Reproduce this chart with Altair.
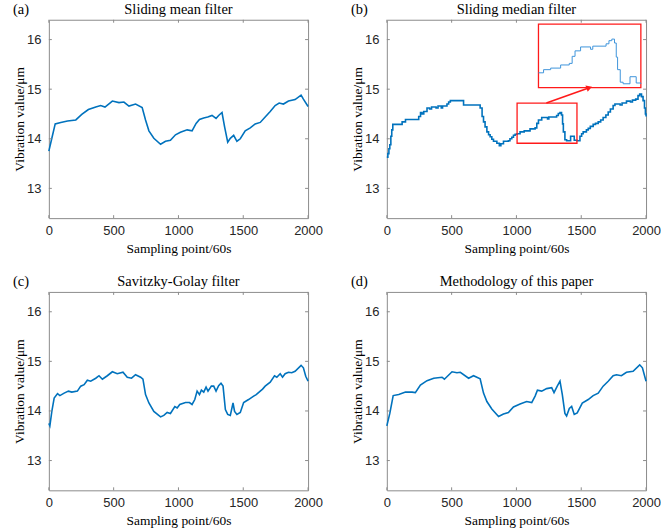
import altair as alt
import pandas as pd

# ---------------- data ----------------
x_ticks = [0, 500, 1000, 1500, 2000]
y_ticks = [13, 14, 15, 16]

mean_x = [0, 23, 49, 92, 144, 208, 254, 305, 362, 400, 433, 490, 541, 579, 618, 669, 720, 746, 772, 810,
          862, 900, 938, 977, 1015, 1067, 1105, 1136, 1162, 1195, 1226, 1259, 1290, 1310, 1336, 1356, 1380, 1400, 1426, 1451,
          1477, 1515, 1554, 1592, 1631, 1669, 1708, 1746, 1777, 1810, 1849, 1900, 1946, 1964, 2000]
mean_y = [13.75, 14.01, 14.30, 14.33, 14.36, 14.38, 14.49, 14.59, 14.64, 14.67, 14.64, 14.76, 14.73, 14.74, 14.66, 14.70, 14.63, 14.38, 14.16, 14.01,
          13.89, 13.95, 13.97, 14.08, 14.13, 14.18, 14.16, 14.31, 14.39, 14.42, 14.44, 14.47, 14.41, 14.47, 14.53, 14.24, 13.93, 14.01, 14.07, 13.95,
          14.00, 14.16, 14.22, 14.30, 14.33, 14.44, 14.55, 14.67, 14.72, 14.70, 14.76, 14.79, 14.88, 14.80, 14.65]

med_x = [0, 8, 16, 23, 31, 38, 46, 118, 144, 246, 260, 272, 285, 310, 330, 345, 380, 395, 420, 430,
         464, 477, 490, 592, 720, 735, 746, 758, 772, 785, 797, 810, 823, 849, 868, 880, 900, 938, 950, 964,
         977, 990, 1005, 1028, 1060, 1105, 1144, 1157, 1170, 1195, 1240, 1250, 1310, 1323, 1336, 1348, 1356, 1362, 1374, 1387,
         1418, 1446, 1467, 1490, 1503, 1515, 1540, 1554, 1570, 1592, 1610, 1631, 1650, 1669, 1690, 1708, 1725, 1746, 1760, 1800,
         1815, 1849, 1880, 1895, 1920, 1938, 1951, 1965, 1977, 1988, 1995, 2000]
med_y = [13.63, 13.70, 13.80, 13.88, 14.05, 14.18, 14.29, 14.34, 14.39, 14.45, 14.53, 14.50, 14.55, 14.62, 14.60, 14.64, 14.62, 14.66, 14.62, 14.66,
         14.70, 14.74, 14.77, 14.68, 14.62, 14.45, 14.34, 14.24, 14.14, 14.08, 14.04, 13.99, 13.95, 13.91, 13.86, 13.90, 13.95, 13.96, 14.00, 14.03,
         14.07, 14.09, 14.10, 14.14, 14.16, 14.20, 14.22, 14.31, 14.38, 14.43, 14.40, 14.44, 14.47, 14.51, 14.53, 14.48, 14.30, 14.14, 13.98, 13.96,
         14.05, 13.97, 13.96, 14.05, 14.10, 14.14, 14.18, 14.21, 14.25, 14.29, 14.31, 14.34, 14.38, 14.43, 14.48, 14.54, 14.60, 14.67, 14.70, 14.68,
         14.72, 14.76, 14.74, 14.78, 14.80, 14.87, 14.90, 14.85, 14.77, 14.62, 14.50, 14.45]

sg_x = [0, 8, 23, 41, 67, 85, 118, 151, 177, 220, 246, 272, 297, 323, 362, 387, 413, 451, 490, 528,
        572, 605, 638, 669, 708, 726, 746, 772, 810, 862, 887, 913, 938, 972, 990, 1010, 1054, 1085, 1105, 1126,
        1144, 1162, 1177, 1195, 1213, 1228, 1254, 1272, 1290, 1310, 1328, 1344, 1362, 1380, 1400, 1421, 1433, 1451, 1477, 1503,
        1541, 1580, 1600, 1631, 1649, 1669, 1708, 1741, 1759, 1785, 1803, 1823, 1849, 1874, 1900, 1946, 1964, 1982, 2000]
sg_y = [13.75, 13.70, 13.99, 14.26, 14.35, 14.31, 14.36, 14.40, 14.38, 14.40, 14.50, 14.53, 14.62, 14.60, 14.66, 14.71, 14.64, 14.71, 14.79, 14.75,
        14.78, 14.68, 14.66, 14.73, 14.68, 14.64, 14.33, 14.16, 13.99, 13.88, 13.91, 13.97, 13.95, 14.09, 14.06, 14.13, 14.17, 14.17, 14.13, 14.23,
        14.40, 14.33, 14.42, 14.38, 14.48, 14.40, 14.50, 14.50, 14.40, 14.51, 14.56, 14.50, 14.03, 13.93, 13.91, 14.16, 13.99, 13.93, 13.97, 14.17,
        14.23, 14.30, 14.33, 14.40, 14.44, 14.50, 14.58, 14.71, 14.68, 14.75, 14.68, 14.75, 14.78, 14.77, 14.80, 14.92, 14.87, 14.70, 14.60]

prop_x = [0, 23, 49, 92, 144, 195, 220, 259, 310, 362, 426, 444, 503, 541, 567, 631, 669, 720, 746, 772,
          810, 862, 900, 938, 977, 1028, 1079, 1118, 1144, 1162, 1195, 1233, 1272, 1290, 1315, 1336, 1354, 1374, 1387, 1408,
          1426, 1446, 1469, 1508, 1554, 1592, 1631, 1669, 1708, 1746, 1772, 1810, 1849, 1900, 1951, 1972, 2000]
prop_y = [13.70, 13.95, 14.31, 14.33, 14.38, 14.38, 14.37, 14.52, 14.61, 14.66, 14.68, 14.64, 14.79, 14.77, 14.78, 14.66, 14.71, 14.65, 14.36, 14.19,
          14.04, 13.89, 13.94, 13.97, 14.08, 14.14, 14.19, 14.17, 14.30, 14.42, 14.40, 14.45, 14.47, 14.37, 14.50, 14.60, 14.33, 13.95, 13.90, 14.05,
          14.09, 13.93, 13.96, 14.16, 14.23, 14.31, 14.36, 14.50, 14.60, 14.71, 14.73, 14.71, 14.78, 14.80, 14.93, 14.87, 14.60]

# zoom box (source region) and inset box, in data units
zoom_x = [1005, 1467]
zoom_y = [13.91, 14.72]
inset_x = [1170, 1960]
inset_y = [15.03, 16.31]
arrow_x = [1231, 1562]
arrow_y = [14.72, 15.03]

titles = ["Sliding mean filter", "Sliding median filter", "Savitzky-Golay filter", "Methodology of this paper"]
tags = ["(a)", "(b)", "(c)", "(d)"]

# ---------------- style ----------------
SERIF = "Liberation Serif"
SANS = "Liberation Sans"
FRAME = "#8c8c8c"
BLUE = "#0072BD"
RED = "#ff1a1a"
W, H = 260, 199

xs = alt.Scale(domain=[0, 2000], nice=False, zero=False)
ys = alt.Scale(domain=[12.4, 16.4], nice=False, zero=False)
XAX = alt.Axis(values=x_ticks, format="d", title="Sampling point/60s",
               labelPadding=6, titlePadding=4, labelFlush=False, tickSize=0)
YAX = alt.Axis(values=y_ticks, format="d", title="Vibration value/μm",
               labelPadding=8, titlePadding=0, labelFlush=False, tickSize=0)


def X(field):
    return alt.X(field, scale=xs, axis=XAX)


def Y(field):
    return alt.Y(field, scale=ys, axis=YAX)


def main_line(df, interp):
    return alt.Chart(df).mark_line(color=BLUE, strokeWidth=1.6, interpolate=interp).encode(
        x=X("x:Q"), y=Y("y:Q"))


def tick_layers():
    xt = pd.DataFrame({"x": x_ticks})
    yt = pd.DataFrame({"y": y_ticks})
    r = dict(color=FRAME, strokeWidth=1)
    return [
        alt.Chart(xt).mark_rule(**r).encode(x=X("x:Q"), y=alt.value(H), y2=alt.value(H - 3)),
        alt.Chart(xt).mark_rule(**r).encode(x=X("x:Q"), y=alt.value(0), y2=alt.value(3)),
        alt.Chart(yt).mark_rule(**r).encode(y=Y("y:Q"), x=alt.value(0), x2=alt.value(3)),
        alt.Chart(yt).mark_rule(**r).encode(y=Y("y:Q"), x=alt.value(W), x2=alt.value(W - 3)),
    ]


def text_layers(idx):
    df = pd.DataFrame({"tag": [tags[idx]], "title": [titles[idx]]})
    base = alt.Chart(df)
    t1 = base.mark_text(font=SERIF, fontSize=14.5, align="left", baseline="top",
                        color="black").encode(x=alt.value(-36), y=alt.value(-17), text="tag:N")
    t2 = base.mark_text(font=SERIF, fontSize=14.5, align="center", baseline="top",
                        color="black").encode(x=alt.value(W / 2), y=alt.value(-17), text="title:N")
    return [t1, t2]


def panel(df, idx, interp="linear", extra=None):
    layers = [main_line(df, interp)]
    if extra:
        layers += extra
    layers += tick_layers()
    layers += text_layers(idx)
    return alt.layer(*layers).properties(width=W, height=H)


mean_df = pd.DataFrame({"x": mean_x, "y": mean_y})
med_df = pd.DataFrame({"x": med_x, "y": med_y})
sg_df = pd.DataFrame({"x": sg_x, "y": sg_y})
prop_df = pd.DataFrame({"x": prop_x, "y": prop_y})

# inset decorations for panel (b)
box_df = pd.DataFrame({"x": [zoom_x[0], inset_x[0]], "x2": [zoom_x[1], inset_x[1]],
                       "y": [zoom_y[0], inset_y[0]], "y2": [zoom_y[1], inset_y[1]],
                       "kind": ["zoom", "inset"]})
small_box = alt.Chart(box_df).transform_filter("datum.kind == 'zoom'").mark_rect(
    fillOpacity=0, stroke=RED, strokeWidth=1.3).encode(
    x=X("x:Q"), x2="x2:Q", y=Y("y:Q"), y2="y2:Q")
big_box = alt.Chart(box_df).transform_filter("datum.kind == 'inset'").mark_rect(
    fill="white", stroke=RED, strokeWidth=1.3).encode(
    x=X("x:Q"), x2="x2:Q", y=Y("y:Q"), y2="y2:Q")

sx = (inset_x[1] - inset_x[0]) / (zoom_x[1] - zoom_x[0])
sy = (inset_y[1] - inset_y[0]) / (zoom_y[1] - zoom_y[0])
inset_line = alt.Chart(med_df).transform_filter(
    f"datum.x >= {zoom_x[0]} && datum.x <= {zoom_x[1]}"
).transform_calculate(
    ix=f"{inset_x[0]} + (datum.x - {zoom_x[0]}) * {sx}",
    iy=f"{inset_y[0]} + (datum.y - {zoom_y[0]}) * {sy}",
).mark_line(color="#3f95db", strokeWidth=1, interpolate="step-after").encode(
    x=X("ix:Q"), y=Y("iy:Q"))

arrow_df = pd.DataFrame({"x": arrow_x, "y": arrow_y})
arrow_line = alt.Chart(arrow_df).mark_line(color=RED, strokeWidth=1.5).encode(
    x=X("x:Q"), y=Y("y:Q"))
arrow_head = alt.Chart(arrow_df.iloc[[1]]).mark_point(
    shape="triangle-right", angle=340, filled=True, size=45, color=RED, opacity=1).encode(
    x=X("x:Q"), y=Y("y:Q"))

pa = panel(mean_df, 0)
pb = panel(med_df, 1, interp="step-after",
           extra=[small_box, big_box, inset_line, arrow_line, arrow_head])
pc = panel(sg_df, 2)
pd_ = panel(prop_df, 3)

chart = alt.concat(pa, pb, pc, pd_, columns=2, spacing={"row": 74, "column": 79}, bounds="flush").properties(
    padding={"left": 12, "top": 0, "right": 0, "bottom": 0}
).configure_view(
    stroke=FRAME, strokeWidth=1
).configure_axis(
    domain=False, ticks=False, grid=False,
    labelFont=SANS, labelFontSize=13, labelColor="#262626",
    titleFont=SERIF, titleFontSize=13.5, titleFontWeight="normal", titleColor="black",
)

chart.save("out.html", embed_options={"renderer": "svg", "actions": False})
